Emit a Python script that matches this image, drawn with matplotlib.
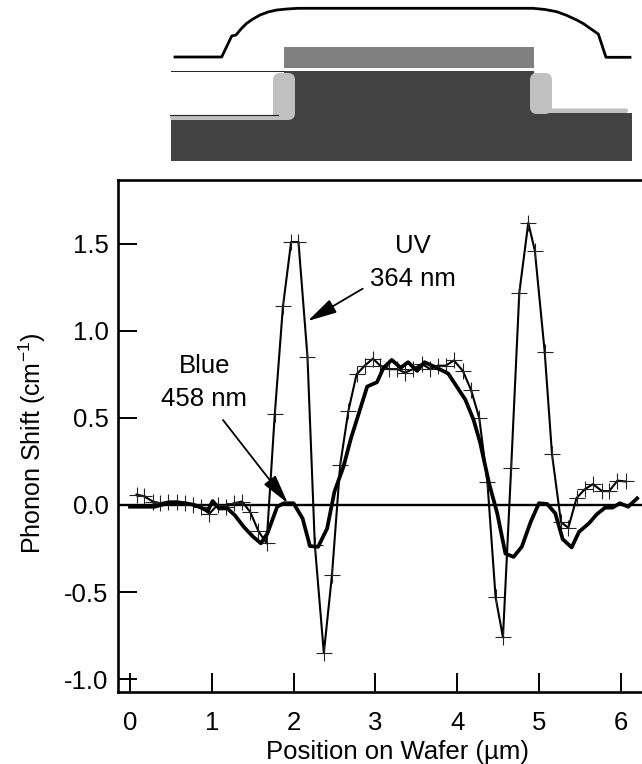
import matplotlib
matplotlib.use("Agg")
import matplotlib.pyplot as plt
from matplotlib.patches import FancyBboxPatch, Polygon, Rectangle

plt.rcParams['font.family'] = ['Liberation Sans', 'DejaVu Sans']
plt.rcParams['mathtext.default'] = 'regular'

# UV 364 nm, one point every 0.1 um or so
uv_x = [0.08, 0.17, 0.28, 0.37, 0.47, 0.57, 0.67, 0.77, 0.87, 0.97, 1.07, 1.17, 1.27, 1.37, 1.47, 1.57,
        1.67, 1.77, 1.87, 1.97, 2.06, 2.17, 2.26, 2.37, 2.47, 2.57, 2.67, 2.77, 2.87, 2.97, 3.06, 3.17,
        3.27, 3.36, 3.46, 3.57, 3.67, 3.76, 3.86, 3.96, 4.07, 4.17, 4.27, 4.37, 4.47, 4.56, 4.66, 4.76,
        4.87, 4.95, 5.07, 5.16, 5.27, 5.36, 5.46, 5.56, 5.66, 5.77, 5.86, 5.96, 6.06]
uv_y = [0.06, 0.05, 0.02, 0.01, 0.02, 0.02, 0.01, 0.0, -0.01, -0.05, 0.0, -0.01, 0.01, 0.02, -0.04, -0.15,
        -0.22, 0.52, 1.14, 1.51, 1.51, 0.85, -0.23, -0.85, -0.40, 0.23, 0.54, 0.75, 0.80, 0.84, 0.80, 0.78,
        0.78, 0.76, 0.78, 0.81, 0.78, 0.80, 0.80, 0.83, 0.77, 0.66, 0.50, 0.13, -0.53, -0.76, 0.21, 1.22,
        1.62, 1.46, 0.88, 0.29, -0.10, -0.13, 0.04, 0.09, 0.12, 0.08, 0.08, 0.14, 0.135]

# Blue 458 nm
blue_x = [0.0, 0.30, 0.38, 0.48, 0.58, 0.68, 0.79, 0.89, 0.95, 1.01, 1.09, 1.19, 1.28, 1.39, 1.50, 1.60,
          1.68, 1.80, 1.88, 2.00, 2.11, 2.20, 2.30, 2.41, 2.50, 2.61, 2.70, 2.90, 3.02, 3.10, 3.20, 3.31,
          3.40, 3.51, 3.60, 3.75, 3.89, 4.10, 4.20, 4.28, 4.39, 4.49, 4.59, 4.69, 4.79, 4.90, 5.00, 5.10,
          5.20, 5.29, 5.40, 5.49, 5.61, 5.71, 5.81, 5.90, 5.99, 6.09, 6.20]
blue_y = [-0.01, -0.01, 0.0, 0.013, 0.015, 0.01, 0.0, -0.02, -0.035, 0.023, -0.02, -0.02, -0.058, -0.125, -0.18, -0.22,
          -0.163, -0.01, 0.01, 0.01, -0.077, -0.236, -0.24, -0.135, 0.077, 0.22, 0.38, 0.68, 0.705, 0.788, 0.833, 0.788,
          0.82, 0.77, 0.82, 0.788, 0.755, 0.605, 0.49, 0.36, 0.125, -0.048, -0.279, -0.298, -0.24, -0.096, 0.01, 0.006,
          -0.048, -0.196, -0.244, -0.154, -0.106, -0.052, -0.015, -0.015, 0.01, -0.01, 0.038]

x_ticks = [0, 1, 2, 3, 4, 5, 6]
y_ticks = [-1.0, -0.5, 0.0, 0.5, 1.0, 1.5]
y_labels = ['-1.0', '-0.5', '0.0', '0.5', '1.0', '1.5']

# device cross section, in picture pixels
cap_x = [175, 221.7, 231.7, 236, 241, 246.7, 253, 260, 268, 276.7, 287, 298, 533, 545, 556.7, 567, 576.7, 584, 590, 598.3, 606, 630]
cap_y = [57, 57, 36, 35, 29, 23.3, 19, 15, 12, 10, 9, 8.3, 8.3, 9.5, 11.7, 15.5, 20, 24, 28.3, 34, 57.3, 57.3]
body_x = [171, 284, 284, 534, 534, 632, 632, 171]
body_y = [120, 120, 71, 71, 113, 113, 161, 161]

fig = plt.figure(figsize=(6.42, 7.64), dpi=100)

top = fig.add_axes([0, 0, 1, 1])
top.set_xlim(0, 642)
top.set_ylim(764, 0)
top.axis('off')
top.plot(cap_x, cap_y, color='black', lw=2.0, solid_joinstyle='round')
top.add_patch(Rectangle((284, 47), 250, 21, color='#808080', lw=0))
top.add_patch(Polygon(list(zip(body_x, body_y)), color='#424242', lw=0))
top.add_patch(FancyBboxPatch((170, 115.5), 120, 4.5, boxstyle='round,pad=0,rounding_size=2', color='#c0c0c0', lw=0))
top.add_patch(FancyBboxPatch((273, 73), 22, 47, boxstyle='round,pad=0,rounding_size=7', color='#c0c0c0', lw=0))
top.add_patch(FancyBboxPatch((540, 108.5), 88, 4.5, boxstyle='round,pad=0,rounding_size=2', color='#c0c0c0', lw=0))
top.add_patch(FancyBboxPatch((530, 73), 22, 41, boxstyle='round,pad=0,rounding_size=7', color='#c0c0c0', lw=0))
top.plot([171, 284], [71, 71], color='#222222', lw=0.7)
top.plot([170, 278], [114.5, 114.5], color='#222222', lw=0.8)

ax = fig.add_axes([118.3 / 642, (764 - 691.7) / 764, 1 - 118.3 / 642, (691.7 - 180) / 764])
ax.patch.set_alpha(0)
ax.set_xlim(-0.143, 6.26)
ax.set_ylim(-1.072, 1.866)

ax.axhline(0, color='black', lw=1.7)
ax.plot(uv_x, uv_y, color='black', lw=1.5, marker='+', ms=11, mew=0.8, mec='#222222')
ax.plot(blue_x, blue_y, color='black', lw=2.7, solid_joinstyle='round')

ax.annotate('', xy=(1.93, 0.01), xytext=(1.137, 0.488),
            arrowprops=dict(arrowstyle='-|>,head_length=1.0,head_width=0.25', color='black', lw=1.3,
                            shrinkA=0, shrinkB=0, mutation_scale=18))
ax.annotate('', xy=(2.172, 1.056), xytext=(2.845, 1.242),
            arrowprops=dict(arrowstyle='-|>,head_length=1.0,head_width=0.25', color='black', lw=1.3,
                            shrinkA=0, shrinkB=0, mutation_scale=18))

ax.text(0.91, 0.80, 'Blue', fontsize=18.5, ha='center', va='center')
ax.text(0.91, 0.61, '458 nm', fontsize=18.5, ha='center', va='center')
ax.text(3.46, 1.487, 'UV', fontsize=18.5, ha='center', va='center')
ax.text(3.46, 1.297, '364 nm', fontsize=18.5, ha='center', va='center')

ax.set_xticks(x_ticks)
ax.set_yticks(y_ticks)
ax.set_yticklabels(y_labels)
ax.tick_params(axis='both', direction='in', length=14, width=1.4, labelsize=18.5)
ax.tick_params(axis='x', pad=14)
ax.tick_params(axis='y', pad=7)
for s in ['left', 'bottom', 'top']:
    ax.spines[s].set_linewidth(1.9)
ax.spines['right'].set_visible(False)

fig.text(398 / 642, 1 - 752 / 764, 'Position on Wafer (µm)', fontsize=18.5, ha='center', va='center')
fig.text(32 / 642, 1 - 443 / 764, 'Phonon Shift (cm$^{-1}$)', fontsize=18, rotation=90, ha='center', va='center')

fig.savefig('out.png', dpi=100)
